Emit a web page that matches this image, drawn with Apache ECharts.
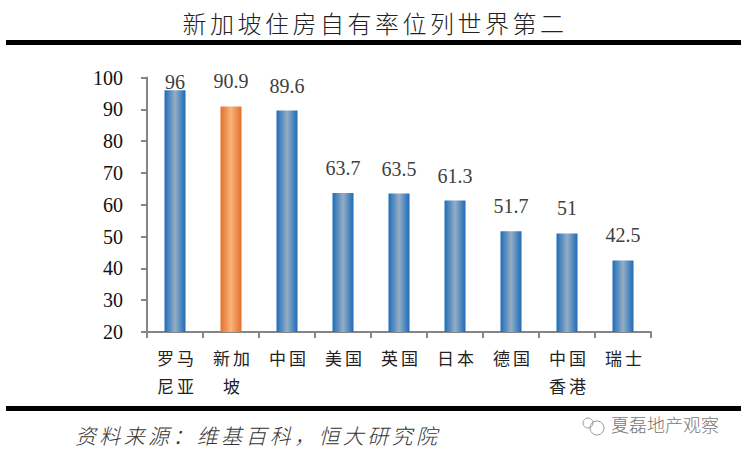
<!DOCTYPE html>
<html><head><meta charset="utf-8">
<style>
html,body{margin:0;padding:0;background:#fff}
#c{width:741px;height:457px}
text[style*="CJK"][style*="24px"]{letter-spacing:3.5px}
text[style*="CJK"][style*="17px"]{letter-spacing:3px}
text[style*="CJK"][style*="21px"]{letter-spacing:3.35px}
</style>
<script src="https://cdn.jsdelivr.net/npm/echarts@6/dist/echarts.min.js"></script>
</head><body><div id="c"></div>
<script>
const titleText = '新加坡住房自有率位列世界第二';
const sourceText = '资料来源\uFF1A维基百科\uFF0C恒大研究院';
const markText = '夏磊地产观察';
const categories = ['罗马\n尼亚','新加\n坡','中国','美国','英国','日本','德国','中国\n香港','瑞士'];
const values = [96,90.9,89.6,63.7,63.5,61.3,51.7,51,42.5];
const highlighted = '新加\n坡';
const CJK = '"Noto Sans CJK SC"';
const SERIF = '"Liberation Serif"';
const grad = (edge, mid) => new echarts.graphic.LinearGradient(0,0,1,0,[
  {offset:0,color:edge},{offset:0.5,color:mid},{offset:1,color:edge}]);
const chart = echarts.init(document.getElementById('c'),null,{renderer:'svg'});
chart.setOption({
  animation:false,
  backgroundColor:'#fff',
  title:{text:titleText,left:370,top:5,textAlign:'center',
    textStyle:{fontFamily:CJK,fontSize:24,fontWeight:300,color:'#222'}},
  grid:{left:147,right:90,top:77.5,bottom:125},
  xAxis:{type:'category',data:categories,
    axisLine:{lineStyle:{color:'#868686',width:2}},
    axisTick:{show:true,alignWithLabel:false,length:6,lineStyle:{color:'#868686',width:2}},
    axisLabel:{interval:0,fontFamily:CJK,fontSize:17,color:'#222',margin:11,lineHeight:28,padding:[0,0,0,4]}},
  yAxis:{type:'value',min:20,max:100,interval:10,
    splitLine:{show:false},
    axisLine:{show:true,lineStyle:{color:'#868686',width:2}},
    axisTick:{show:true,length:6,lineStyle:{color:'#868686',width:2}},
    axisLabel:{fontFamily:SERIF,fontSize:20,color:'#111',margin:24}},
  series:[{type:'bar',barWidth:21,
    data:values.map((v,i)=>({value:v,
      itemStyle:{color:categories[i]===highlighted?grad('#e2702a','#fab27c'):grad('#1c6cb8','#96aec6')},
      label:{distance:v===96?-2:15}})),
    label:{show:true,position:'top',fontFamily:SERIF,fontSize:20,color:'#404040'}}],
  graphic:[
    {type:'rect',shape:{x:6,y:40,width:735,height:5},style:{fill:'#000'}},
    {type:'rect',shape:{x:6,y:406,width:735,height:5},style:{fill:'#000'}},
    {type:'text',x:75,y:424,style:{text:sourceText,fontFamily:CJK,fontSize:21,fontWeight:300,fontStyle:'italic',fill:'#333'}},
    {type:'text',x:611,y:415,style:{text:markText,fontFamily:CJK,fontSize:18,fontWeight:300,fill:'#777'}},
    {type:'circle',shape:{cx:588,cy:423,r:5},style:{fill:'none',stroke:'#999',lineWidth:1}},
    {type:'circle',shape:{cx:597,cy:428,r:7},style:{fill:'none',stroke:'#999',lineWidth:1}}
  ]
});
</script></body></html>
